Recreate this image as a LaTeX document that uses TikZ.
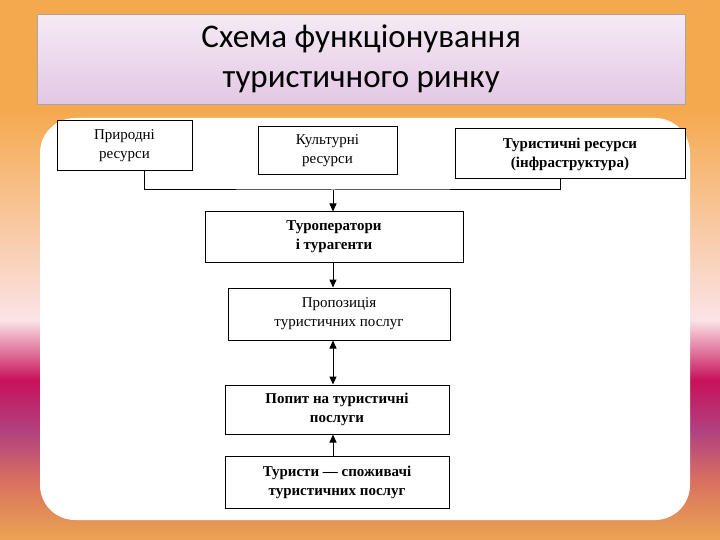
\documentclass[tikz,border=0pt]{standalone}
\usepackage{fontspec}
\setmainfont{Liberation Serif}
\newfontfamily\titlefont{Carlito}
\usetikzlibrary{arrows.meta}
\definecolor{c1}{HTML}{F5A94E}
\definecolor{c2}{HTML}{F8C9A0}
\definecolor{c3}{HTML}{FBE3E6}
\definecolor{c4}{HTML}{C8125A}
\definecolor{c5}{HTML}{B04080}
\definecolor{c6}{HTML}{D87060}
\definecolor{c7}{HTML}{EBA552}
\tikzset{box/.style={draw=black,line width=1pt,fill=white,align=center,font=\bfseries\fontsize{15}{19}\selectfont,inner sep=0pt},
 arr/.style={-{Triangle[length=8pt,width=7pt]},line width=1pt}}
\begin{document}
\begin{tikzpicture}[x=1pt,y=-1pt]
\useasboundingbox (0,0) rectangle (720,540);
\shade[top color=c1,bottom color=c1] (0,0) rectangle (720,110);
\shade[top color=c1,bottom color=c3] (0,110) rectangle (720,320);
\shade[top color=c3,bottom color=c4] (0,320) rectangle (720,380);
\shade[top color=c4,bottom color=c5] (0,380) rectangle (720,430);
\shade[top color=c5,bottom color=c6] (0,430) rectangle (720,480);
\shade[top color=c6,bottom color=c7] (0,480) rectangle (720,540.5);
\node[draw=gray!70,top color=violet!8,bottom color=violet!22,minimum width=648,minimum height=90,anchor=north west,align=center,font=\titlefont\fontsize{33}{40}\selectfont] (title) at (37,14) {Схема функціонування\\туристичного ринку};
\fill[white,rounded corners=35] (40,118) rectangle (690,520);
\node[box,minimum width=135,minimum height=50] (a) at (124.5,146) {\mdseries Природні\\\mdseries ресурси};
\node[box,minimum width=139,minimum height=48] (b) at (327.5,151) {\mdseries Культурні\\\mdseries ресурси};
\node[box,minimum width=230,minimum height=50] (c) at (570,154) {Туристичні ресурси\\(інфраструктура)};
\node[box,minimum width=258,minimum height=50] (d) at (334,237) {Туроператори\\і турагенти};
\node[box,minimum width=222,minimum height=52] (e) at (339,314) {\mdseries Пропозиція\\\mdseries туристичних послуг};
\node[box,minimum width=224,minimum height=49] (f) at (337,409.5) {Попит на туристичні\\послуги};
\node[box,minimum width=224,minimum height=52] (g) at (337,482) {Туристи — споживачі\\туристичних послуг};
\coordinate (j) at (333,190);
\draw[line width=1pt] ([xshift=20pt]a.south) |- (j) -| ([xshift=-10pt]c.south);
\draw[arr] (j) -- (d.north -| j);
\draw[arr] (d.south -| j) -- (e.north -| j);
\draw[{Triangle[length=8pt,width=7pt]}-{Triangle[length=8pt,width=7pt]},line width=1pt] (e.south -| j) -- (f.north -| j);
\draw[arr] (g.north -| j) -- (f.south -| j);
\end{tikzpicture}
\end{document}
